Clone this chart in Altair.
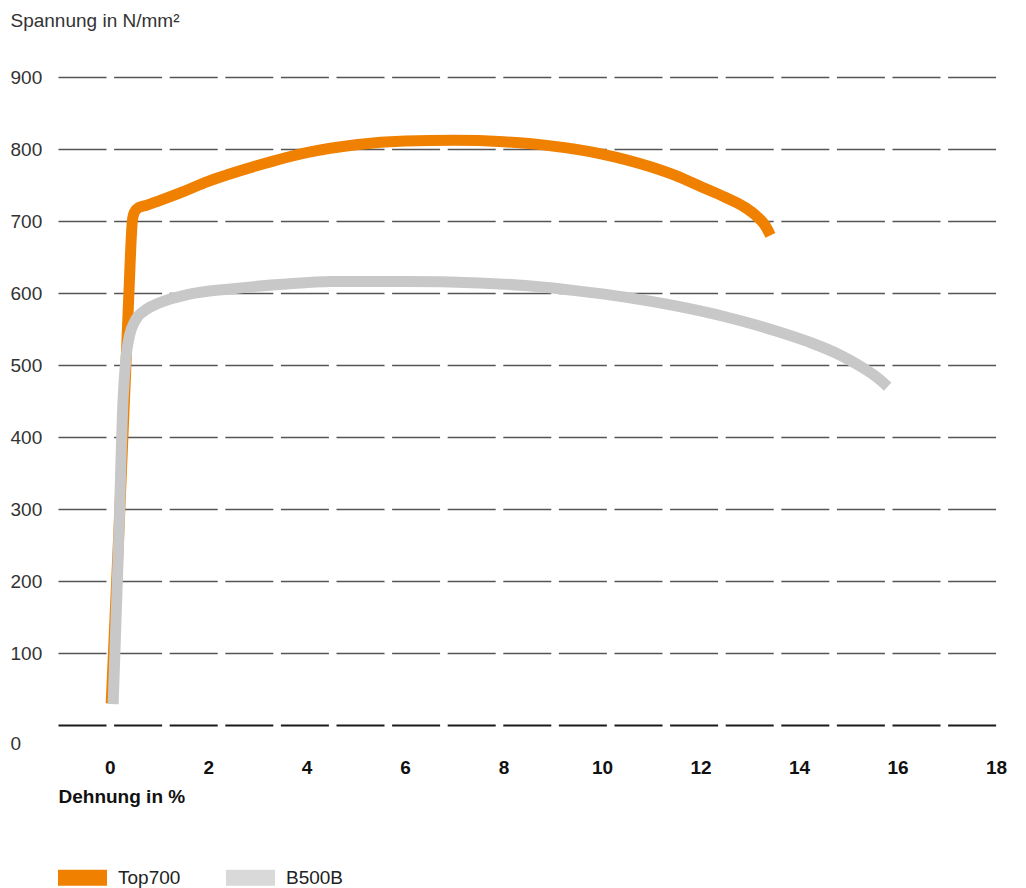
import altair as alt
import pandas as pd

# Top700 stress-strain curve (Dehnung %, Spannung N/mm²)
top_x = [0.03, 0.20, 0.33, 0.39, 0.46, 0.50, 0.60, 0.75, 1.0, 1.43, 2.0, 3.0, 4.0, 5.0, 6.0, 7.0, 8.0, 9.0, 10.0, 11.0, 11.5, 12.0, 12.5, 12.9, 13.15, 13.3, 13.42]
top_y = [30, 290, 500, 600, 700, 712, 719, 722, 728, 739, 755, 777, 795, 806, 811, 812, 810, 804, 793, 775, 763, 748, 733, 719, 706, 695, 680]

# B500B stress-strain curve
b_x = [0.07, 0.18, 0.27, 0.33, 0.40, 0.52, 0.72, 1.0, 1.6, 2.5, 3.5, 4.5, 6.0, 7.5, 8.5, 9.5, 10.5, 11.5, 12.5, 13.5, 14.2, 14.8, 15.3, 15.6, 15.8]
b_y = [29, 250, 450, 510, 540, 562, 576, 586, 598, 606, 612, 616, 616, 614, 610, 603, 594, 582, 567, 548, 532, 515, 496, 482, 470]

series = ["Top700", "B500B"]
line_colors = ["#F08000", "#C8C8C8"]
legend_colors = ["#F08000", "#D9D9D9"]

x_ticks = [0, 2, 4, 6, 8, 10, 12, 14, 16, 18]
y_ticks = [0, 100, 200, 300, 400, 500, 600, 700, 800, 900]

df_top = pd.DataFrame({"x": top_x, "y": top_y, "series": "Top700"})
df_b = pd.DataFrame({"x": b_x, "y": b_y, "series": "B500B"})
df_leg = pd.DataFrame({"series": series})

FONT = "Liberation Sans"

x_enc = alt.X(
    "x:Q",
    scale=alt.Scale(domain=[-1.05, 18], nice=False, zero=False),
    axis=alt.Axis(
        values=x_ticks, grid=False, domain=False, ticks=False, tickSize=0,
        labelFont=FONT, labelFontSize=19, labelFontWeight="bold", labelColor="#111",
        labelPadding=48, labelBaseline="alphabetic", labelFlush=False, labelOverlap=False,
        title="Dehnung in %", titleFont=FONT, titleFontSize=19, titleFontWeight="bold",
        titleColor="#111", titleAlign="left", titleAnchor="start", titleBaseline="alphabetic",
        titleX=0, titleY=77,
    ),
)
y_enc = alt.Y(
    "y:Q",
    scale=alt.Scale(domain=[0, 900], nice=False),
    axis=alt.Axis(
        values=y_ticks, domain=False, ticks=False, tickSize=0,
        grid=True, gridDash=[48, 7.6],
        gridColor=alt.condition("datum.value === 0", alt.value("#1a1a1a"), alt.value("#555555")),
        gridWidth=alt.condition("datum.value === 0", alt.value(2), alt.value(1.4)),
        labelFont=FONT, labelFontSize=19, labelColor="#333",
        labelAlign="left", labelBaseline="middle", labelPadding=48,
        labelOffset=alt.condition("datum.value === 0", alt.value(18), alt.value(0)),
        title="Spannung in N/mm²", titleFont=FONT, titleFontSize=19, titleFontWeight="normal",
        titleColor="#333", titleAngle=0, titleAlign="left", titleBaseline="alphabetic",
        titleX=-48, titleY=-51,
    ),
)

top_line = alt.Chart(df_top).mark_line(
    color=line_colors[0], strokeWidth=11, strokeCap="butt", interpolate="monotone"
).encode(x=x_enc, y=y_enc, order="x:Q")

b_line = alt.Chart(df_b).mark_line(
    color=line_colors[1], strokeWidth=11, strokeCap="butt", interpolate="monotone"
).encode(x="x:Q", y="y:Q", order="x:Q")

legend_layer = alt.Chart(df_leg).mark_point(filled=True, opacity=0).encode(
    fill=alt.Fill(
        "series:N",
        scale=alt.Scale(domain=series, range=legend_colors),
        sort=series,
        legend=alt.Legend(
            title=None, orient="none", direction="horizontal",
            legendX=0, legendY=776,
            symbolType="M-1,-0.327H1V0.327H-1Z", symbolSize=2401,
            symbolStrokeWidth=0, symbolOpacity=1,
            labelFont=FONT, labelFontSize=19, labelColor="#222",
            labelOffset=11, columnPadding=45,
        ),
    )
)

chart = alt.layer(top_line, b_line, legend_layer).properties(
    width=938, height=648,
    autosize=alt.AutoSizeParams(type="none"),
    padding={"left": 50, "top": 69, "right": 22, "bottom": 164},
).configure_view(stroke=None)

chart.save("out.html", embed_options={"renderer": "svg", "actions": False})
